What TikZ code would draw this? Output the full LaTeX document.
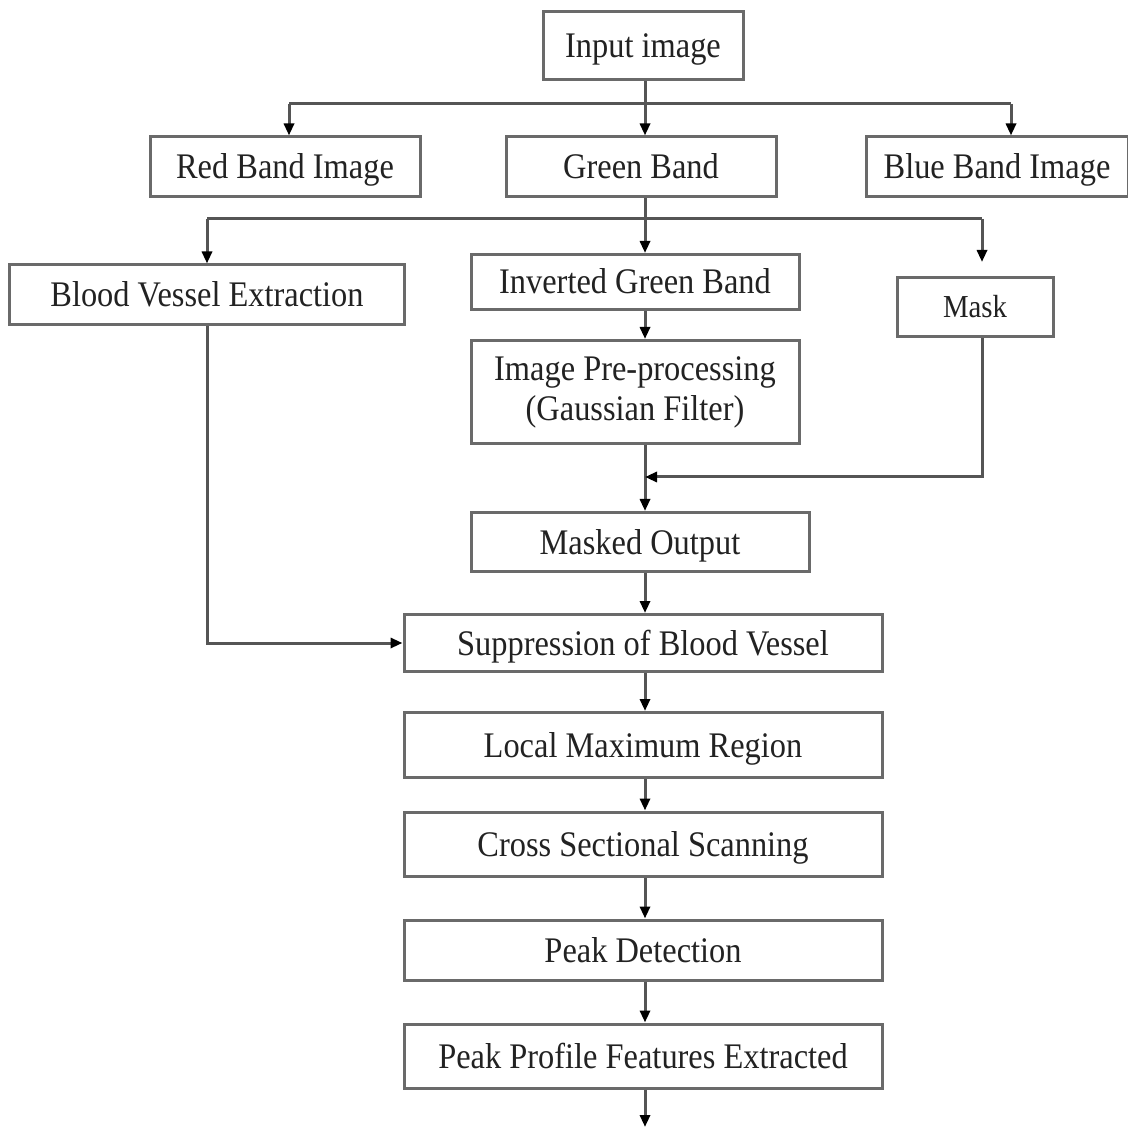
\documentclass[tikz,border=0pt]{standalone}
\usepackage{fontspec}
\setmainfont{Liberation Serif}[FakeStretch=0.9]
\usetikzlibrary{arrows.meta,calc}
\definecolor{boxgray}{HTML}{6A6A6A}
\definecolor{linegray}{HTML}{555555}
\definecolor{txt}{HTML}{222222}
\begin{document}
\begin{tikzpicture}[x=0.5pt,y=-0.5pt,
  boxbase/.style={draw=boxgray, line width=1.5pt, rectangle, inner sep=0pt, fill=white,
    text=txt, font=\fontsize{18}{20}\selectfont, align=center},
  box/.style={boxbase, text height=14pt, text depth=2pt},
  conn/.style={draw=linegray, line width=1.5pt},
  arr/.style={conn, -{Triangle[width=5pt,length=6pt,fill=black,color=black]}}]
\useasboundingbox (0,0) rectangle (1128,1127);
% nodes
\node[box, minimum width=100pt, minimum height=34pt] (inp) at (643,46) {Input image};
\node[box, minimum width=135pt, minimum height=30pt] (red) at (285,167) {Red Band Image};
\node[box, minimum width=135pt, minimum height=30pt] (green) at (641,167) {Green Band};
\node[box, minimum width=131pt, minimum height=30pt] (blue) at (997,167) {Blue Band Image};
\node[box, minimum width=197.5pt, minimum height=30pt] (bve) at (207,295) {Blood Vessel Extraction};
\node[box, minimum width=164pt, minimum height=27.5pt] (inv) at (635,282) {Inverted Green Band};
\node[boxbase, minimum width=164pt, minimum height=51.5pt] (pre) at (635,392) {Image Pre-processing\\(Gaussian Filter)};
\node[box, minimum width=78pt, minimum height=29.5pt, font=\fontsize{16}{18}\selectfont, text height=12.5pt, text depth=1.8pt] (mask) at (975,307) {Mask};
\node[box, minimum width=169pt, minimum height=29.5pt] (mo) at (640,542) {Masked Output};
\node[box, minimum width=239pt, minimum height=28.5pt] (sup) at (643,643) {Suppression of Blood Vessel};
\node[box, minimum width=239pt, minimum height=32.5pt] (lmr) at (643,745) {Local Maximum Region};
\node[box, minimum width=239pt, minimum height=32pt] (css) at (643,844) {Cross Sectional Scanning};
\node[box, minimum width=239pt, minimum height=30pt] (pd) at (643,950) {Peak Detection};
\node[box, minimum width=239pt, minimum height=32pt] (ppf) at (643,1056) {Peak Profile Features Extracted};
% junction coordinates
\coordinate (j1) at (645,104);
\coordinate (bd) at (1011,104);
\coordinate (rd) at (289,104);
\coordinate (j2) at (645,219);
\coordinate (md) at (982,219);
\coordinate (mj) at (645,477);
\coordinate (endc) at (645,1127);
% top branch
\draw[conn] (j1 |- inp.south) -- (j1);
\draw[conn] (rd) -- (bd);
\draw[arr] (rd) -- (rd |- red.north);
\draw[arr] (j1) -- (j1 |- green.north);
\draw[arr] (bd) -- (bd |- blue.north);
% second branch
\draw[conn] (j2 |- green.south) -- (j2);
\draw[conn] (j2 -| bve.north) -- (md);
\draw[arr] (j2 -| bve.north) -- (bve.north);
\draw[arr] (j2) -- (j2 |- inv.north);
\draw[arr, shorten >=7pt] (md) -- (md |- mask.north);
% middle column
\draw[arr] (j2 |- inv.south) -- (j2 |- pre.north);
\draw[arr] (mj |- pre.south) -- (mj |- mo.north);
\draw[arr] (md |- mask.south) |- (mj);
\draw[arr] (mj |- mo.south) -- (mj |- sup.north);
\draw[arr] (bve.south) |- (sup.west);
\draw[arr] (mj |- sup.south) -- (mj |- lmr.north);
\draw[arr] (mj |- lmr.south) -- (mj |- css.north);
\draw[arr] (mj |- css.south) -- (mj |- pd.north);
\draw[arr] (mj |- pd.south) -- (mj |- ppf.north);
\draw[arr] (mj |- ppf.south) -- (endc);
\end{tikzpicture}
\end{document}
